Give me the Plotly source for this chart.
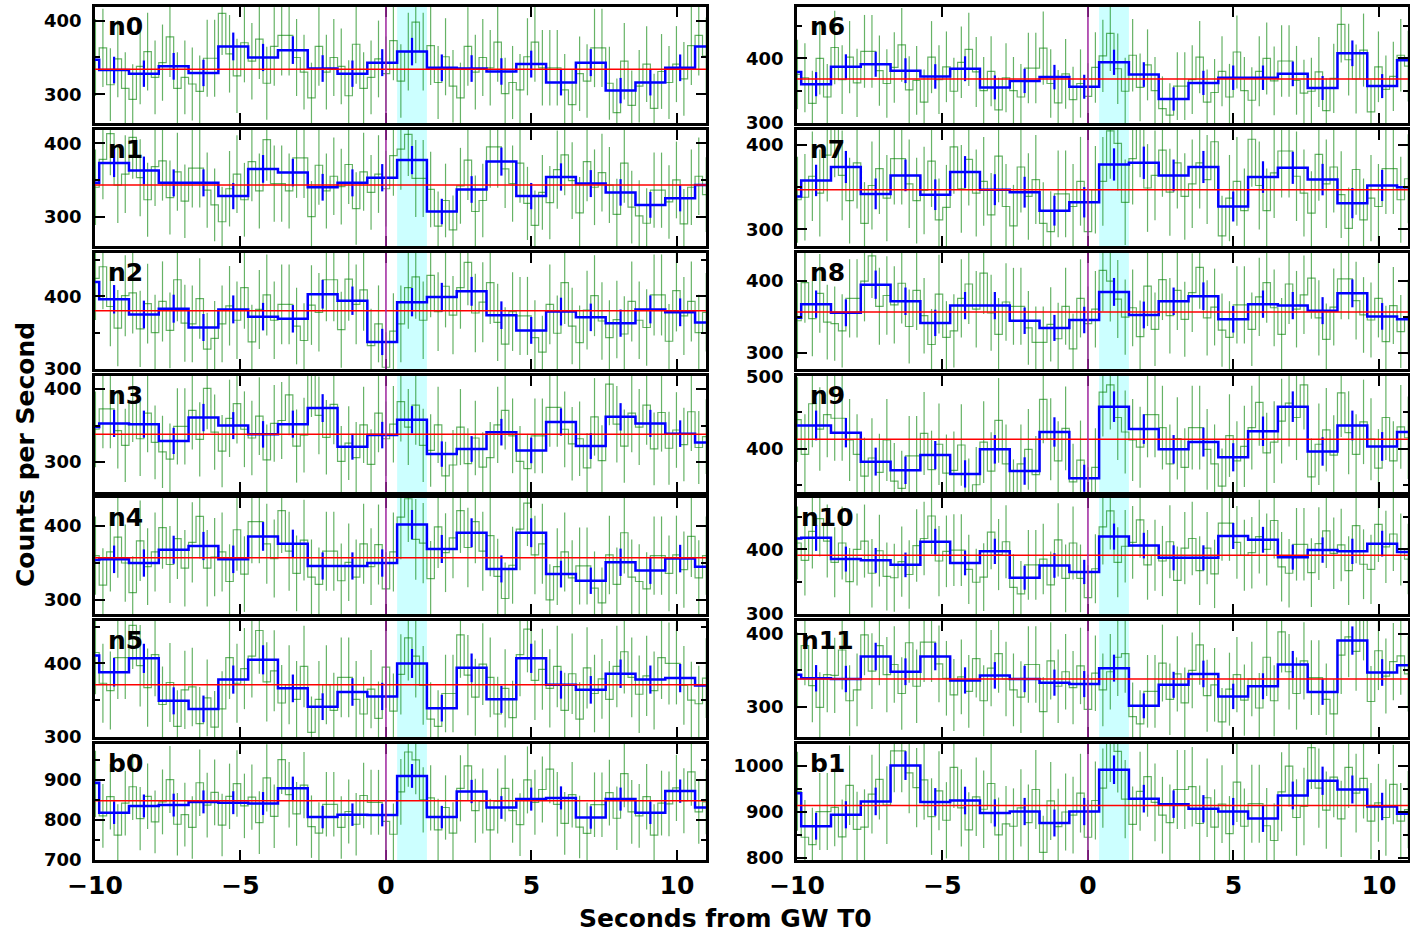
import numpy as np
import plotly.graph_objects as go

# ---------------- data ----------------
detectors = ["n0", "n1", "n2", "n3", "n4", "n5", "b0",
             "n6", "n7", "n8", "n9", "n10", "n11", "b1"]
x_tick_vals = [-10, -5, 0, 5, 10]
x_tick_text = ["\u221210", "\u22125", "0", "5", "10"]

# background (red line) levels, counts per second
bkg_levels = [334, 343, 380, 338, 357, 371, 848,
              368, 347, 357, 413, 391, 338, 914]

# coarse (1.024 s) rates: first partial bin, 20 full bins, last partial bin
blue_n0 = [347, 333, 328, 338, 329, 365, 350, 360, 335, 328, 343, 358, 336, 335, 331, 341, 316, 343, 305, 316, 336, 365]
blue_n1 = [346, 373, 363, 346, 346, 328, 365, 360, 340, 346, 353, 377, 307, 337, 375, 328, 354, 345, 333, 316, 325, 343]
blue_n2 = [420, 396, 375, 383, 357, 382, 372, 369, 403, 394, 337, 392, 399, 407, 374, 353, 379, 371, 363, 382, 378, 364]
blue_n3 = [348, 353, 352, 329, 361, 350, 338, 352, 374, 321, 337, 358, 311, 318, 341, 316, 355, 322, 362, 353, 339, 327]
blue_n4 = [354, 355, 350, 368, 373, 355, 386, 376, 346, 346, 350, 402, 369, 391, 342, 391, 335, 326, 351, 340, 356, 345]
blue_n5 = [411, 388, 407, 349, 338, 378, 405, 366, 341, 361, 355, 400, 339, 394, 351, 407, 371, 364, 386, 378, 380, 370]
blue_b0 = [893, 818, 835, 837, 845, 843, 841, 879, 807, 813, 812, 910, 807, 871, 831, 852, 855, 806, 852, 818, 872, 831]
blue_n6 = [379, 360, 387, 391, 381, 372, 384, 355, 365, 371, 356, 394, 375, 337, 362, 370, 370, 376, 354, 408, 357, 397]
blue_n7 = [339, 358, 374, 342, 364, 341, 368, 347, 344, 322, 332, 377, 379, 364, 374, 327, 362, 373, 359, 331, 352, 350]
blue_n8 = [349, 368, 356, 395, 372, 342, 366, 366, 345, 335, 346, 385, 353, 372, 379, 347, 368, 366, 359, 383, 351, 347]
blue_n9 = [432, 432, 422, 382, 370, 391, 365, 399, 369, 423, 359, 458, 427, 399, 409, 388, 424, 458, 396, 432, 403, 423]
blue_n10 = [417, 418, 385, 383, 376, 412, 379, 397, 356, 375, 365, 420, 406, 387, 387, 421, 415, 388, 399, 397, 409, 396]
blue_n11 = [344, 339, 338, 369, 348, 369, 336, 343, 338, 333, 331, 353, 301, 330, 345, 314, 328, 358, 320, 391, 347, 357]
blue_b1 = [941, 869, 894, 923, 1001, 922, 925, 898, 901, 876, 901, 992, 929, 917, 907, 901, 886, 936, 968, 949, 912, 896]

# fine (0.256 s) rates
green_n0 = [350,
    363, 313, 348, 308, 293, 338, 358, 323, 343, 378, 308, 323, 314, 304, 349, 349,
    410, 355, 325, 370, 345, 375, 315, 365, 380, 380, 350, 330, 295, 365, 330, 350,
    338, 298, 368, 308, 323, 348, 328, 373, 318, 358, 398, 358, 366, 316, 351, 311,
    295, 365, 330, 350, 336, 371, 301, 316, 306, 351, 371, 336, 336, 336, 306, 286,
    328, 318, 363, 363, 315, 275, 345, 285, 311, 341, 281, 331, 316, 341, 321, 366,
    380, 352]
green_n1 = [340,
    378, 413, 343, 358, 408, 353, 323, 368, 376, 326, 361, 321, 366, 366, 336, 316,
    293, 338, 358, 323, 375, 335, 405, 345, 345, 335, 380, 380, 300, 370, 335, 355,
    341, 371, 311, 361, 333, 358, 338, 383, 392, 412, 352, 352, 337, 287, 322, 282,
    342, 377, 307, 322, 395, 395, 365, 345, 373, 318, 288, 333, 319, 364, 384, 349,
    305, 375, 340, 360, 343, 303, 373, 313, 301, 291, 336, 336, 320, 350, 290, 340,
    355, 330]
green_n2 = [425,
    441, 386, 356, 401, 405, 355, 390, 350, 393, 353, 423, 363, 362, 397, 327, 342,
    362, 387, 367, 412, 337, 382, 402, 367, 389, 389, 359, 339, 388, 378, 423, 423,
    354, 424, 389, 409, 332, 362, 302, 352, 362, 412, 427, 367, 429, 379, 414, 374,
    412, 447, 377, 392, 419, 364, 334, 379, 373, 373, 343, 323, 389, 349, 419, 359,
    336, 381, 401, 366, 343, 368, 348, 393, 367, 357, 402, 402, 338, 408, 373, 393,
    350, 378]
green_n3 = [345,
    373, 373, 343, 323, 382, 332, 367, 327, 314, 304, 349, 349, 371, 331, 401, 341,
    315, 360, 380, 345, 333, 363, 303, 353, 357, 392, 322, 337, 419, 364, 334, 379,
    301, 326, 306, 351, 297, 367, 332, 352, 383, 348, 378, 323, 316, 351, 281, 296,
    348, 298, 333, 293, 306, 351, 371, 336, 301, 291, 336, 336, 375, 375, 345, 325,
    332, 292, 362, 302, 407, 352, 322, 367, 348, 378, 318, 368, 319, 344, 324, 369,
    320, 335]
green_n4 = [360,
    320, 365, 385, 350, 310, 380, 345, 365, 398, 348, 383, 343, 378, 413, 343, 358,
    365, 325, 395, 335, 406, 406, 376, 356, 421, 366, 336, 381, 331, 321, 366, 366,
    326, 351, 331, 376, 345, 375, 315, 365, 412, 437, 382, 377, 329, 399, 364, 384,
    421, 371, 406, 366, 387, 332, 302, 347, 396, 431, 361, 376, 300, 345, 365, 330,
    346, 346, 316, 296, 361, 321, 391, 331, 325, 315, 360, 360, 336, 361, 341, 386,
    330, 360]
green_n5 = [415,
    373, 363, 408, 408, 452, 397, 367, 412, 344, 374, 314, 364, 368, 318, 353, 313,
    338, 408, 373, 393, 410, 445, 375, 390, 346, 371, 351, 396, 306, 351, 371, 336,
    381, 381, 351, 331, 365, 325, 395, 335, 385, 435, 410, 370, 324, 314, 359, 359,
    439, 384, 354, 399, 381, 331, 366, 326, 412, 447, 377, 392, 366, 396, 336, 386,
    324, 394, 359, 379, 351, 396, 416, 381, 358, 383, 363, 408, 400, 400, 370, 350,
    345, 380]
green_b0 = [890,
    810, 858, 762, 842, 883, 803, 859, 795, 845, 901, 789, 813, 781, 893, 837, 869,
    787, 859, 891, 835, 857, 793, 905, 809, 951, 863, 815, 887, 783, 767, 839, 839,
    781, 821, 789, 861, 844, 844, 796, 764, 870, 970, 950, 850, 855, 775, 831, 767,
    879, 935, 823, 847, 775, 847, 879, 823, 788, 900, 844, 876, 927, 839, 791, 863,
    782, 766, 838, 838, 868, 804, 916, 820, 810, 858, 762, 842, 840, 880, 848, 920,
    820, 845]
green_n6 = [375,
    370, 330, 400, 340, 417, 367, 402, 362, 411, 411, 381, 361, 386, 421, 351, 366,
    332, 402, 367, 387, 349, 394, 414, 379, 350, 380, 320, 370, 350, 340, 385, 385,
    416, 361, 331, 376, 336, 361, 341, 386, 404, 439, 384, 349, 405, 355, 390, 350,
    322, 312, 357, 357, 367, 402, 332, 347, 380, 340, 410, 350, 335, 380, 400, 365,
    396, 396, 366, 346, 349, 379, 319, 369, 453, 398, 368, 413, 317, 387, 352, 372,
    405, 388]
green_n7 = [335,
    338, 363, 343, 388, 419, 364, 334, 379, 307, 352, 372, 337, 384, 384, 354, 334,
    346, 381, 311, 326, 398, 348, 383, 343, 357, 317, 387, 327, 304, 374, 339, 359,
    307, 297, 342, 342, 327, 357, 297, 347, 357, 417, 402, 332, 384, 419, 349, 364,
    394, 344, 379, 339, 354, 379, 359, 404, 292, 337, 357, 322, 407, 352, 322, 367,
    393, 393, 363, 343, 319, 389, 354, 374, 341, 301, 371, 311, 337, 327, 372, 372,
    335, 360]
green_n8 = [345,
    398, 348, 383, 343, 341, 331, 376, 376, 400, 435, 365, 380, 367, 397, 337, 387,
    352, 312, 382, 322, 331, 376, 396, 361, 411, 356, 326, 371, 365, 365, 335, 315,
    315, 340, 320, 365, 306, 376, 341, 361, 415, 400, 375, 350, 363, 323, 393, 333,
    402, 352, 387, 347, 384, 419, 349, 364, 332, 322, 367, 367, 333, 378, 398, 363,
    326, 396, 361, 381, 404, 349, 319, 364, 403, 403, 373, 353, 346, 376, 316, 366,
    330, 350]
green_n9 = [440,
    392, 462, 427, 447, 442, 442, 412, 392, 362, 387, 367, 412, 355, 345, 390, 390,
    421, 371, 406, 366, 370, 405, 335, 350, 409, 369, 439, 379, 334, 379, 399, 364,
    468, 413, 383, 428, 354, 384, 324, 374, 478, 488, 443, 423, 412, 402, 447, 447,
    429, 379, 414, 374, 429, 429, 399, 379, 348, 418, 383, 403, 429, 464, 394, 409,
    438, 463, 443, 488, 361, 406, 426, 391, 477, 422, 392, 437, 413, 373, 443, 383,
    430, 415]
green_n10 = [410,
    383, 428, 448, 413, 380, 410, 350, 400, 413, 363, 398, 358, 356, 381, 361, 406,
    417, 452, 382, 397, 399, 399, 369, 349, 357, 427, 392, 412, 341, 331, 376, 376,
    385, 345, 415, 355, 410, 355, 325, 370, 435, 460, 380, 405, 411, 446, 376, 391,
    382, 412, 352, 402, 417, 367, 402, 362, 441, 441, 411, 391, 395, 420, 400, 445,
    373, 363, 408, 408, 364, 409, 429, 394, 407, 367, 437, 377, 369, 439, 404, 424,
    400, 385]
green_n11 = [350,
    384, 329, 299, 344, 343, 378, 308, 323, 399, 349, 384, 344, 358, 318, 388, 328,
    389, 389, 359, 339, 316, 341, 321, 366, 308, 353, 373, 338, 323, 313, 358, 358,
    293, 363, 328, 348, 326, 356, 296, 346, 323, 348, 368, 373, 286, 276, 321, 321,
    360, 310, 345, 305, 350, 385, 315, 330, 279, 324, 344, 309, 338, 298, 368, 308,
    403, 348, 318, 363, 340, 340, 310, 290, 371, 396, 376, 421, 307, 377, 342, 362,
    370, 345]
green_b1 = [945,
    845, 829, 901, 901, 910, 846, 958, 862, 867, 939, 971, 915, 1033, 1033, 985, 953,
    970, 890, 946, 882, 997, 909, 861, 933, 906, 962, 850, 874, 869, 909, 877, 949,
    812, 924, 868, 900, 893, 941, 845, 925, 952, 1056, 1032, 928, 873, 945, 977, 921,
    893, 877, 949, 949, 955, 875, 931, 867, 917, 853, 965, 869, 918, 918, 870, 838,
    944, 1000, 888, 912, 1040, 952, 904, 976, 885, 997, 941, 973, 880, 920, 888, 960,
    880, 905]

blue_all = [blue_n0, blue_n1, blue_n2, blue_n3, blue_n4, blue_n5, blue_b0,
            blue_n6, blue_n7, blue_n8, blue_n9, blue_n10, blue_n11, blue_b1]
green_all = [green_n0, green_n1, green_n2, green_n3, green_n4, green_n5, green_b0,
             green_n6, green_n7, green_n8, green_n9, green_n10, green_n11, green_b1]

# ---------------- binning ----------------
COARSE_W, FINE_W = 1.024, 0.256
coarse_edges = -10.88 + COARSE_W * np.arange(23)
fine_edges = -10.112 + FINE_W * np.arange(84)
burst_span = (0.384, 1.408)

# ---------------- layout geometry / styles ----------------
W, H = 1410, 932
col_px = [(95, 706), (797, 1408)]
row_px = [(7, 123), (130, 246), (253, 369), (376, 492), (498, 614), (621, 737), (744, 860)]
y_ranges = [(261, 418.6), (260, 418), (299.6, 460), (259, 418), (281, 438), (299.6, 458), (699.5, 990),
            (299.6, 480), (280, 418), (278, 439), (340, 500.4), (299.6, 480), (258, 418), (795.5, 1048)]

GREEN = "rgba(0,128,0,0.6)"
BLUE = "#0000ff"
FONT = "DejaVu Sans"

fig = go.Figure()
layout = dict(width=W, height=H, margin=dict(l=0, r=0, t=0, b=0, autoexpand=False),
              paper_bgcolor="white", plot_bgcolor="white", showlegend=False,
              template="none")
shapes, annotations = [], []

for p, name in enumerate(detectors):
    c, r = divmod(p, 7)
    n = p + 1
    xa = "x" if n == 1 else f"x{n}"
    ya = "y" if n == 1 else f"y{n}"
    xkey = "xaxis" if n == 1 else f"xaxis{n}"
    ykey = "yaxis" if n == 1 else f"yaxis{n}"
    g = np.array(green_all[p], dtype=float)
    b = np.array(blue_all[p], dtype=float)

    # cyan burst window
    shapes.append(dict(type="rect", xref=xa, yref=f"{ya} domain", x0=burst_span[0], x1=burst_span[1],
                       y0=0, y1=1, fillcolor="#ccffff", line=dict(width=0), layer="below"))

    # fine histogram (steps) and error bars
    fig.add_trace(go.Scatter(x=fine_edges, y=np.append(g, g[-1]), mode="lines",
                             line=dict(shape="hv", color=GREEN, width=1.2),
                             xaxis=xa, yaxis=ya, hoverinfo="skip"))
    fig.add_trace(go.Scatter(x=fine_edges[:-1] + FINE_W / 2, y=g, mode="markers",
                             marker=dict(size=1, color="rgba(0,0,0,0)"),
                             error_y=dict(type="data", array=np.sqrt(g / (FINE_W / 2)),
                                          color=GREEN, thickness=1.2, width=0),
                             xaxis=xa, yaxis=ya, hoverinfo="skip"))
    # coarse histogram
    fig.add_trace(go.Scatter(x=coarse_edges, y=np.append(b, b[-1]), mode="lines",
                             line=dict(shape="hv", color=BLUE, width=2.5),
                             xaxis=xa, yaxis=ya, hoverinfo="skip"))
    fig.add_trace(go.Scatter(x=coarse_edges[:-1] + COARSE_W / 2, y=b, mode="markers",
                             marker=dict(size=1, color="rgba(0,0,0,0)"),
                             error_y=dict(type="data", array=np.sqrt(b / COARSE_W),
                                          color=BLUE, thickness=2.2, width=0),
                             xaxis=xa, yaxis=ya, hoverinfo="skip"))
    # background
    fig.add_trace(go.Scatter(x=[-10, 11], y=[bkg_levels[p]] * 2, mode="lines",
                             line=dict(color="red", width=1.5),
                             xaxis=xa, yaxis=ya, hoverinfo="skip"))
    # T0 line
    shapes.append(dict(type="line", xref=xa, yref=f"{ya} domain", x0=0, x1=0, y0=0, y1=1,
                       line=dict(color="rgba(160,40,160,0.85)", width=1.8), layer="above"))

    x0p, x1p = col_px[c]
    t_px, b_px = row_px[r]
    bottom = (r == 6)
    layout[xkey] = dict(domain=[x0p / W, x1p / W], anchor=ya, range=[-10, 11], automargin=False,
                        showline=True, linewidth=2.5, linecolor="black", mirror="ticks",
                        ticks="inside", ticklen=10, tickwidth=1.5, tickcolor="black",
                        tickmode="array", tickvals=x_tick_vals, ticktext=x_tick_text,
                        showticklabels=bottom, ticklabelstandoff=1,
                        tickfont=dict(family=FONT, size=25, color="black", weight="bold"),
                        showgrid=False, zeroline=False)
    layout[ykey] = dict(domain=[1 - b_px / H, 1 - t_px / H], anchor=xa, range=list(y_ranges[p]),
                        automargin=False,
                        showline=True, linewidth=2.5, linecolor="black", mirror="ticks",
                        ticks="inside", ticklen=10, tickwidth=1.5, tickcolor="black",
                        tick0=0, dtick=100,
                        minor=dict(dtick=50, ticklen=5, ticks="inside", tickcolor="black", tickwidth=1.5),
                        ticklabelstandoff=7,
                        tickfont=dict(family=FONT, size=18, color="black", weight="bold"),
                        showgrid=False, zeroline=False)
    annotations.append(dict(xref=xa, yref=f"{ya} domain", x=-8.95, y=0.83, text=f"<b>{name}</b>",
                            showarrow=False, xanchor="center", yanchor="middle",
                            font=dict(family=FONT, size=25, color="black")))

annotations.append(dict(xref="paper", yref="paper", x=25 / W, y=1 - 455 / H, text="<b>Counts per Second</b>",
                        textangle=-90, showarrow=False, xanchor="center", yanchor="middle",
                        font=dict(family=FONT, size=25, color="black")))
annotations.append(dict(xref="paper", yref="paper", x=725 / W, y=1 - 918 / H, text="<b>Seconds from GW T0</b>",
                        showarrow=False, xanchor="center", yanchor="middle",
                        font=dict(family=FONT, size=25, color="black")))

layout["shapes"] = shapes
layout["annotations"] = annotations
fig.update_layout(**layout)

fig.write_html("out.html")
with open("out.html", "r", encoding="utf-8") as f:
    html = f.read()
html = html.replace("<head>", "<head><style>html,body{margin:0;padding:0;}</style>", 1)
with open("out.html", "w", encoding="utf-8") as f:
    f.write(html)
